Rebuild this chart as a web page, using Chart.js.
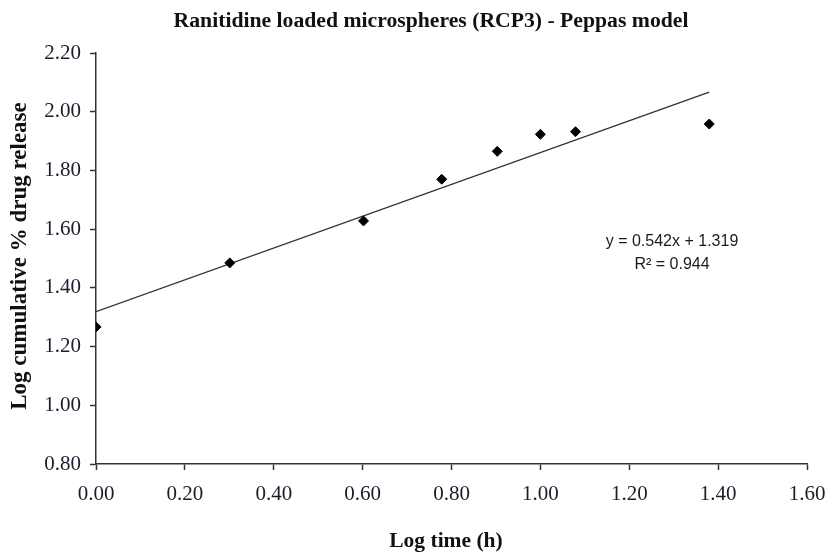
<!DOCTYPE html>
<html>
<head>
<meta charset="utf-8">
<script src="https://cdn.jsdelivr.net/npm/chart.js@4/dist/chart.umd.min.js"></script>
<style>
  body { margin: 0; background: #fff; }
  #wrap { width: 826px; height: 552px; }
</style>
</head>
<body>
<div id="wrap"><canvas id="peppas_chart" width="826" height="552"></canvas></div>
<script>
"use strict";

// log time (h) vs log cumulative % drug release
const logTime = [0.0, 0.301, 0.602, 0.778, 0.903, 1.0, 1.079, 1.38];
const logRelease = [1.267, 1.485, 1.628, 1.77, 1.865, 1.923, 1.932, 1.958];

// linear fit reported on the chart
const fitSlope = 0.542;
const fitIntercept = 1.319;
const fitR2 = 0.944;

const xTicks = [0, 0.2, 0.4, 0.6, 0.8, 1.0, 1.2, 1.4, 1.6];
const yTicks = [0.8, 1.0, 1.2, 1.4, 1.6, 1.8, 2.0, 2.2];

const titleText = "Ranitidine loaded microspheres (RCP3) - Peppas model";
const xTitle = "Log time (h)";
const yTitle = "Log cumulative % drug release";

const points = logTime.map((x, i) => ({ x: x, y: logRelease[i] }));
const xFitEnd = logTime[logTime.length - 1];
const fitLine = [
  { x: 0, y: fitIntercept },
  { x: xFitEnd, y: fitSlope * xFitEnd + fitIntercept }
];

const serif = "'Liberation Serif', 'Times New Roman', serif";

// title, axis titles and the fit equation
const textPlugin = {
  id: "chartTexts",
  afterDraw(chart) {
    const ctx = chart.ctx;
    ctx.save();
    ctx.fillStyle = "#111";
    ctx.textAlign = "center";
    ctx.textBaseline = "middle";

    ctx.font = "bold 21.7px " + serif;
    ctx.fillText(titleText, 431, 21);

    ctx.font = "bold 21.5px " + serif;
    ctx.fillText(xTitle, 446, 541);

    ctx.save();
    ctx.translate(20, 256);
    ctx.rotate(-Math.PI / 2);
    ctx.font = "bold 23px " + serif;
    ctx.fillText(yTitle, 0, 0);
    ctx.restore();

    ctx.fillStyle = "#1a1a1a";
    ctx.font = "16px 'Liberation Sans', Arial, sans-serif";
    const sign = fitIntercept < 0 ? "- " : "+ ";
    ctx.fillText("y = " + fitSlope.toFixed(3) + "x " + sign + Math.abs(fitIntercept).toFixed(3), 672, 242);
    ctx.fillText("R\u00B2 = " + fitR2.toFixed(3), 672, 265);
    ctx.restore();
  }
};

const ctx1 = document.getElementById("peppas_chart").getContext("2d");
const peppasChart = new Chart(ctx1, {
  type: "scatter",
  data: {
    datasets: [
      {
        label: "Release",
        data: points,
        pointStyle: "rectRot",
        pointRadius: 5,
        pointHoverRadius: 5,
        backgroundColor: "#000",
        borderColor: "#000",
        borderWidth: 1
      },
      {
        type: "line",
        label: "Fit",
        data: fitLine,
        borderColor: "#333",
        borderWidth: 1.4,
        pointRadius: 0,
        fill: false
      }
    ]
  },
  options: {
    responsive: false,
    animation: false,
    layout: { padding: { top: 53, right: 19, left: 0, bottom: 0 } },
    plugins: {
      legend: { display: false },
      tooltip: { enabled: false }
    },
    scales: {
      x: {
        type: "linear",
        min: 0,
        max: 1.6,
        afterBuildTicks: scale => {
          scale.ticks = xTicks.map(v => ({ value: v }));
        },
        afterFit: scale => {
          scale.height = 88;
          scale.paddingLeft = 0;
          scale.paddingRight = 0;
        },
        ticks: {
          color: "#1c1c2c",
          padding: 12,
          font: { family: serif, size: 21 },
          callback: v => Number(v).toFixed(2),
          maxRotation: 0,
          autoSkip: false
        },
        grid: {
          drawOnChartArea: false,
          drawTicks: true,
          tickLength: 6,
          tickColor: "#333",
          tickWidth: 1.5
        },
        border: { display: true, color: "#333", width: 1.5 }
      },
      y: {
        type: "linear",
        min: 0.8,
        max: 2.2,
        afterBuildTicks: scale => {
          scale.ticks = yTicks.map(v => ({ value: v }));
        },
        afterFit: scale => {
          scale.width = 96;
          scale.paddingTop = 0;
          scale.paddingBottom = 0;
        },
        ticks: {
          color: "#1c1c2c",
          padding: 9,
          font: { family: serif, size: 21 },
          callback: v => Number(v).toFixed(2),
          autoSkip: false
        },
        grid: {
          drawOnChartArea: false,
          drawTicks: true,
          tickLength: 6,
          tickColor: "#333",
          tickWidth: 1.5
        },
        border: { display: true, color: "#333", width: 1.5 }
      }
    }
  },
  plugins: [textPlugin]
});
</script>
</body>
</html>
